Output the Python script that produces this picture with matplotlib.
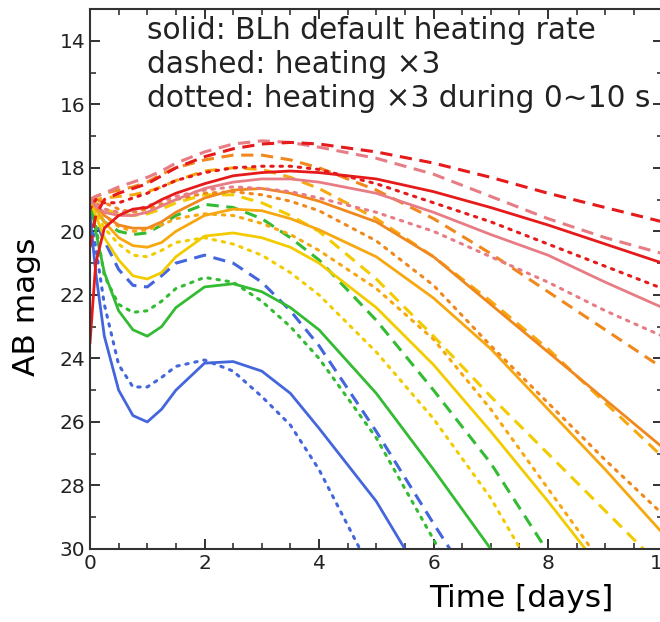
import matplotlib
matplotlib.use('Agg')
import matplotlib.pyplot as plt
from matplotlib.ticker import MultipleLocator

# time grid (days) shared by every curve
t = [0, 0.1, 0.25, 0.5, 0.75, 1.0, 1.25, 1.5, 2.0, 2.5, 3.0, 3.5, 4.0, 5.0, 6.0, 7.0, 8.0, 9.0, 10.0]

# AB magnitudes, one band per colour
blue_solid  = [19.5, 21.3, 23.3, 25.0, 25.8, 26.0, 25.6, 25.0, 24.15, 24.1, 24.4, 25.1, 26.2, 28.5, 31.5, 33, 34, 35, 36]
blue_dashed = [19.3, 19.7, 20.3, 21.2, 21.7, 21.75, 21.4, 21.0, 20.75, 21.0, 21.6, 22.5, 23.6, 26.3, 29.2, 32, 34, 35, 36]
blue_dotted = [19.5, 20.5, 22.3, 24.2, 24.9, 24.9, 24.6, 24.25, 24.05, 24.4, 25.2, 26.1, 27.5, 31.0, 33, 34, 35, 36, 37]

green_solid  = [19.0, 20.0, 21.3, 22.5, 23.1, 23.3, 23.0, 22.4, 21.75, 21.65, 21.9, 22.4, 23.1, 25.1, 27.5, 30.0, 32.5, 34, 35]
green_dashed = [19.0, 19.3, 19.7, 20.0, 20.1, 20.05, 19.8, 19.5, 19.15, 19.25, 19.6, 20.2, 20.9, 22.8, 25.0, 27.3, 30.1, 33, 35]
green_dotted = [19.0, 19.8, 21.4, 22.3, 22.55, 22.5, 22.2, 21.8, 21.45, 21.6, 22.2, 23.0, 24.0, 26.5, 29.7, 33, 34, 35, 36]

yellow_solid  = [19.0, 19.5, 20.2, 20.9, 21.4, 21.5, 21.3, 20.8, 20.15, 20.05, 20.2, 20.5, 21.0, 22.4, 24.2, 26.3, 28.5, 30.8, 33]
yellow_dashed = [19.0, 19.1, 19.3, 19.45, 19.5, 19.45, 19.3, 19.1, 18.85, 18.85, 19.1, 19.5, 20.0, 21.5, 23.3, 25.2, 27.0, 28.8, 30.6]
yellow_dotted = [19.0, 19.4, 19.9, 20.4, 20.75, 20.8, 20.6, 20.35, 20.2, 20.4, 20.75, 21.3, 22.0, 23.8, 25.9, 28.4, 31.5, 33, 34]

gold_solid  = [19.0, 19.3, 19.7, 20.2, 20.45, 20.5, 20.35, 20.0, 19.5, 19.3, 19.35, 19.6, 19.95, 20.8, 22.1, 23.7, 25.6, 27.5, 29.5]
gold_dashed = [19.0, 19.0, 18.95, 18.9, 18.85, 18.75, 18.6, 18.4, 18.1, 18.0, 18.05, 18.3, 18.65, 19.6, 20.8, 22.2, 23.7, 25.4, 27.1]
gold_dotted = [19.0, 19.2, 19.5, 19.85, 20.0, 19.95, 19.8, 19.6, 19.45, 19.5, 19.75, 20.1, 20.6, 21.8, 23.4, 25.6, 28.1, 30.6, 32]

orange_solid  = [19.0, 19.2, 19.5, 19.8, 19.9, 19.9, 19.7, 19.4, 18.95, 18.7, 18.65, 18.8, 19.05, 19.7, 20.8, 22.3, 23.8, 25.3, 26.8]
orange_dashed = [19.0, 18.9, 18.8, 18.7, 18.6, 18.45, 18.2, 18.0, 17.75, 17.6, 17.6, 17.75, 18.0, 18.7, 19.6, 20.7, 21.9, 23.1, 24.3]
orange_dotted = [19.0, 19.0, 19.1, 19.3, 19.4, 19.3, 19.15, 19.0, 18.8, 18.75, 18.85, 19.05, 19.35, 20.3, 21.7, 23.6, 25.4, 27.2, 28.9]

pink_solid  = [19.0, 19.2, 19.4, 19.5, 19.5, 19.4, 19.2, 19.0, 18.65, 18.45, 18.35, 18.35, 18.45, 18.8, 19.4, 20.1, 20.75, 21.6, 22.4]
pink_dashed = [19.0, 18.9, 18.8, 18.6, 18.45, 18.3, 18.1, 17.85, 17.5, 17.25, 17.15, 17.2, 17.35, 17.7, 18.2, 18.9, 19.6, 20.2, 20.7]
pink_dotted = [19.0, 19.1, 19.3, 19.4, 19.35, 19.2, 19.05, 18.9, 18.7, 18.6, 18.65, 18.75, 18.95, 19.4, 20.0, 20.8, 21.6, 22.5, 23.3]

red_solid  = [23.5, 21.0, 19.9, 19.5, 19.3, 19.25, 19.0, 18.8, 18.5, 18.25, 18.15, 18.1, 18.15, 18.35, 18.75, 19.25, 19.8, 20.4, 21.0]
red_dashed = [20.5, 19.5, 19.0, 18.8, 18.65, 18.5, 18.25, 18.0, 17.65, 17.4, 17.25, 17.2, 17.25, 17.5, 17.85, 18.3, 18.8, 19.25, 19.7]
red_dotted = [19.3, 19.0, 19.1, 19.1, 18.95, 18.8, 18.6, 18.4, 18.15, 18.0, 17.95, 17.95, 18.05, 18.5, 19.1, 19.7, 20.4, 21.1, 21.8]

bands = [
    ('#4466dd', blue_solid, blue_dashed, blue_dotted),
    ('#33bb33', green_solid, green_dashed, green_dotted),
    ('#f2cc00', yellow_solid, yellow_dashed, yellow_dotted),
    ('#f7a810', gold_solid, gold_dashed, gold_dotted),
    ('#f0881e', orange_solid, orange_dashed, orange_dotted),
    ('#e87c84', pink_solid, pink_dashed, pink_dotted),
    ('#e61a1a', red_solid, red_dashed, red_dotted),
]

notes = ['solid: BLh default heating rate',
         'dashed: heating \u00d73',
         'dotted: heating \u00d73 during 0~10 s']

fig = plt.figure(figsize=(6.6, 6.22), dpi=100)
ax = fig.add_axes([0.1364, 0.1174, 0.8674, 0.8681])

for color, solid, dashed, dotted in bands:
    ax.plot(t, solid, color=color, lw=2.0, ls='-')
    ax.plot(t, dashed, color=color, lw=2.2, ls=(0, (4, 2.5)))
    ax.plot(t, dotted, color=color, lw=2.2, ls=(0, (0.8, 2.2)), dash_capstyle='round')

ax.set_xlim(0, 10)
ax.set_ylim(30, 13)
ax.xaxis.set_major_locator(MultipleLocator(2))
ax.xaxis.set_minor_locator(MultipleLocator(0.5))
ax.yaxis.set_major_locator(MultipleLocator(2))
ax.yaxis.set_minor_locator(MultipleLocator(1))
ax.set_yticks([14, 16, 18, 20, 22, 24, 26, 28, 30])
ax.tick_params(which='both', direction='in', top=True, right=True, labelsize=14.5, colors='#222222')
ax.tick_params(which='major', length=7, width=1.3)
ax.tick_params(which='minor', length=4, width=1.1)
for s in ax.spines.values():
    s.set_linewidth(1.5)
    s.set_color('#333333')

ax.set_xlabel('Time [days]', fontsize=22.5)
ax.set_ylabel('AB mags', fontsize=22.5)
ax.xaxis.set_label_coords(0.754, -0.065)
ax.yaxis.set_label_coords(-0.085, 0.448)

for i, s in enumerate(notes):
    ax.text(1.0, 13.68 + 1.07 * i, s, fontsize=21.3, va='center', ha='left', color='#222222')

fig.savefig('out.png', dpi=100)
